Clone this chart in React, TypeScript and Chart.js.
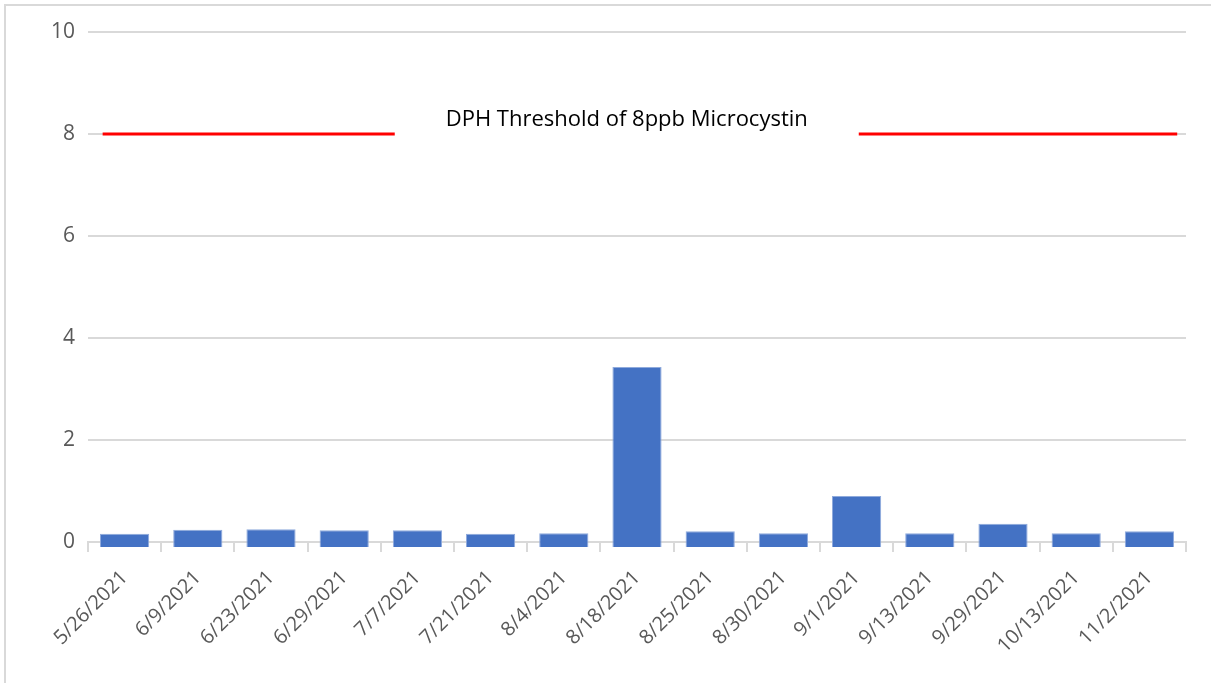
import React, { useEffect, useRef } from "react";
import { Chart, registerables } from "chart.js";

Chart.register(...registerables);

const categories = [
  "5/26/2021", "6/9/2021", "6/23/2021", "6/29/2021", "7/7/2021", "7/21/2021",
  "8/4/2021", "8/18/2021", "8/25/2021", "8/30/2021", "9/1/2021", "9/13/2021",
  "9/29/2021", "10/13/2021", "11/2/2021",
];
const microcystin = [0.16, 0.24, 0.25, 0.23, 0.23, 0.16, 0.17, 3.43, 0.21, 0.17, 0.9, 0.17, 0.36, 0.17, 0.21];
const yTicks = [0, 2, 4, 6, 8, 10];
const threshold = 8;
const thresholdLabel = "DPH Threshold of 8ppb Microcystin";

const FONT = "'Open Sans', sans-serif";

const thresholdPlugin = {
  id: "thresholdLine",
  afterDatasetsDraw(chart: any) {
    const { ctx } = chart;
    const x = chart.scales.x;
    const y = chart.scales.y;
    const yPix = y.getPixelForValue(threshold);
    const x0 = x.getPixelForValue(-0.3);
    const x1 = x.getPixelForValue(14.38);
    ctx.save();
    ctx.strokeStyle = "#FF0000";
    ctx.lineWidth = 3;
    ctx.beginPath();
    ctx.moveTo(x0, yPix);
    ctx.lineTo(x1, yPix);
    ctx.stroke();
    const cx = x.getPixelForValue(6.86);
    const ty = y.getPixelForValue(threshold + 0.27);
    ctx.font = `22px ${FONT}`;
    ctx.fillStyle = "#ffffff";
    ctx.fillRect(cx - 232, ty - 20, 464, 40);
    ctx.fillStyle = "#000000";
    ctx.textAlign = "center";
    ctx.textBaseline = "middle";
    ctx.fillText(thresholdLabel, cx, ty);
    ctx.restore();
  },
};

export default function App() {
  const ref = useRef<HTMLCanvasElement>(null);
  useEffect(() => {
    if (!ref.current) return;
    const chart = new Chart(ref.current, {
      type: "bar",
      data: {
        labels: categories,
        datasets: [
          {
            label: "Microcystin",
            data: microcystin,
            backgroundColor: "#4472C4",
            borderColor: "#8FAADC",
            borderWidth: 1,
            base: -0.1,
            clip: false,
            categoryPercentage: 0.8,
            barPercentage: 0.84,
          } as any,
        ],
      },
      options: {
        animation: false,
        responsive: false,
        maintainAspectRatio: false,
        layout: { padding: { top: 32, right: 25, left: 0, bottom: 0 } },
        plugins: { legend: { display: false }, tooltip: { enabled: false } },
        scales: {
          x: {
            offset: true,
            grid: {
              offset: true,
              drawOnChartArea: false,
              drawTicks: true,
              tickLength: 10,
              color: "#d9d9d9",
              lineWidth: 2,
            },
            border: { display: true, color: "#d9d9d9", width: 2 },
            ticks: {
              minRotation: 45,
              maxRotation: 45,
              autoSkip: false,
              color: "#595959",
              font: { family: FONT, size: 20 },
              padding: 14,
            },
            afterFit: (s: any) => {
              s.height = 141;
            },
          },
          y: {
            min: 0,
            max: 10,
            afterBuildTicks: (s: any) => {
              s.ticks = yTicks.map((v) => ({ value: v }));
            },
            grid: { color: "#d9d9d9", lineWidth: 2, drawTicks: false },
            border: { display: false },
            ticks: {
              color: "#595959",
              font: { family: FONT, size: 21 },
              padding: 13,
            },
            afterFit: (s: any) => {
              s.width = 88;
            },
          },
        },
      },
      plugins: [thresholdPlugin],
    });
    return () => chart.destroy();
  }, []);
  return (
    <div style={{ position: "fixed", left: 0, top: 0, width: 1211, height: 683, background: "#fff" }}>
      <div
        style={{
          position: "absolute",
          left: 4,
          top: 4,
          width: 1240,
          height: 700,
          borderLeft: "2px solid #d9d9d9",
          borderTop: "2px solid #d9d9d9",
        }}
      />
      <canvas ref={ref} width={1211} height={683} style={{ position: "absolute", left: 0, top: 0 }} />
    </div>
  );
}
